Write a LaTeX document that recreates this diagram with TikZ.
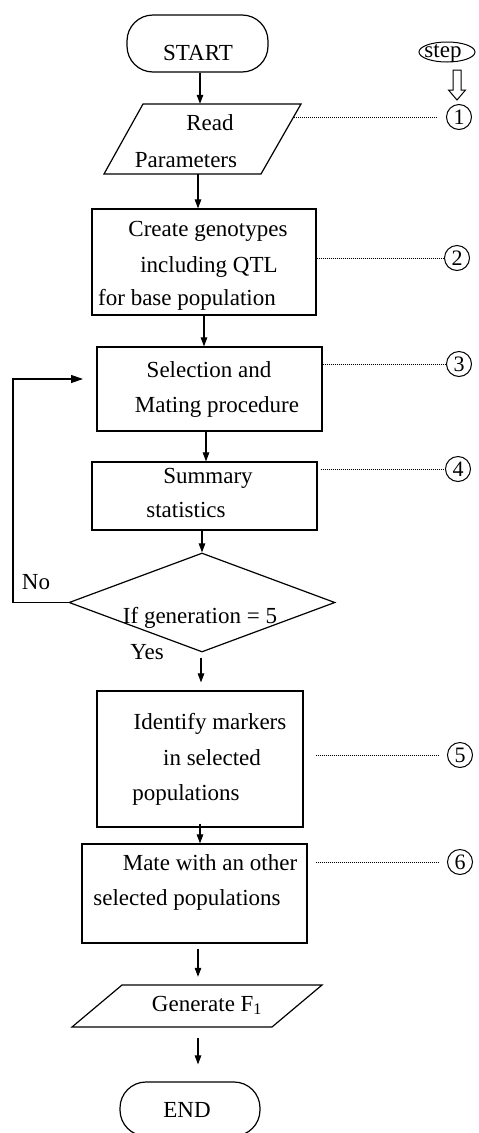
\documentclass[tikz,border=0pt]{standalone}
\usepackage{fontspec}
\setmainfont{Liberation Serif}
\usetikzlibrary{shapes.geometric,arrows.meta}
\begin{document}
\begin{tikzpicture}[x=1pt,y=-1pt,
  boxnode/.style={draw, line width=1.2pt, inner sep=0pt, rectangle},
  ghost/.style={inner sep=0pt, rectangle},
  txt/.style={font=\fontsize{23}{27}\selectfont, inner sep=0pt, anchor=base},
  arr/.style={line width=1.1pt, -{Triangle[length=9pt,width=6.5pt]}},
  bigarr/.style={line width=1.2pt, -{Triangle[length=12pt,width=8pt]}},
  dotline/.style={line width=0.9pt, dash pattern=on 0.9pt off 1.1pt},
  stepcirc/.style={draw, circle, line width=1pt, minimum size=25pt, inner sep=0pt, font=\fontsize{22}{22}\selectfont}]
\useasboundingbox (0,0) rectangle (479,1133);

% terminals
\node[boxnode, rounded corners=26pt, minimum width=141pt, minimum height=57pt] (start) at (197.5,43.5) {};
\node[txt] (tstart) at (198,60) {START};
\node[boxnode, rounded corners=26pt, minimum width=140pt, minimum height=54pt] (end) at (190,1109) {};
\node[txt] (tend) at (187,1117) {END};

% Read parameters (parallelogram)
\path (143,104) coordinate (rTL) (301,104) coordinate (rTR) (261,174) coordinate (rBR) (104,174) coordinate (rBL);
\draw[line width=1.2pt] (rTL) -- (rTR) -- (rBR) -- (rBL) -- cycle;
\node[ghost, minimum width=197pt, minimum height=70pt] (read) at (202.5,139) {};
\node[txt] (tread1) at (210,130) {Read};
\node[txt] (tread2) at (186,167) {Parameters};

% Create genotypes
\node[boxnode, minimum width=224pt, minimum height=106pt] (create) at (204,262) {};
\node[txt] (tcr1) at (208,236) {Create genotypes};
\node[txt] (tcr2) at (209,272) {including QTL};
\node[txt] (tcr3) at (187,305) {for base population};

% Selection
\node[boxnode, minimum width=225pt, minimum height=84pt] (sel) at (209.5,389) {};
\node[txt] (tsel1) at (209,377) {Selection and};
\node[txt] (tsel2) at (217,412) {Mating procedure};

% Summary
\node[boxnode, minimum width=225pt, minimum height=68pt] (sum) at (204.5,496) {};
\node[txt] (tsum1) at (208,483) {Summary};
\node[txt] (tsum2) at (186,517) {statistics};

% Decision
\node[draw, diamond, line width=1.2pt, inner sep=0pt, minimum width=266pt, minimum height=99pt] (dec) at (202,602.5) {};
\node[txt] (tdec) at (200,623) {If generation = 5};
\node[txt] (tno) at (36,589) {No};
\node[txt] (tyes) at (147,659) {Yes};

% Identify
\node[boxnode, minimum width=206pt, minimum height=136pt] (ident) at (200,759) {};
\node[txt] (tid1) at (210,729) {Identify markers};
\node[txt] (tid2) at (212,765) {in selected};
\node[txt] (tid3) at (186,800) {populations};

% Mate
\node[boxnode, minimum width=225pt, minimum height=99pt] (mate) at (194.5,893.5) {};
\node[txt] (tm1) at (210,870) {Mate with an other};
\node[txt] (tm2) at (187,905) {selected populations};

% Generate F1 (parallelogram)
\path (122,985) coordinate (gTL) (322,985) coordinate (gTR) (272,1027) coordinate (gBR) (72,1027) coordinate (gBL);
\draw[line width=1.2pt] (gTL) -- (gTR) -- (gBR) -- (gBL) -- cycle;
\node[ghost, minimum width=250pt, minimum height=42pt] (gen) at (197,1006) {};
\node[txt] (tgen) at (207,1011) {Generate F\textsubscript{1}};

% main flow arrows
\draw[arr] ([xshift=2.5pt]start.south) -- ([xshift=2.5pt]start.south |- read.north);
\draw[arr] ([xshift=-4.5pt]read.south) -- ([xshift=-4.5pt]read.south |- create.north);
\draw[arr] (create.south) -- (create.south |- sel.north);
\draw[arr] ([xshift=-3.5pt]sel.south) -- ([xshift=-3.5pt]sel.south |- sum.north);
\draw[arr] ([xshift=-2.5pt]sum.south) -- (dec.north);
\draw[arr, shorten <=5pt, shorten >=8pt] ([xshift=-1pt]dec.south) -- ([xshift=-1pt]dec.south |- ident.north);
\draw[arr] ([yshift=4pt]ident.south) -- (ident.south |- mate.north);
\draw[arr, shorten <=5pt, shorten >=8pt] ([xshift=3.5pt]mate.south) -- ([xshift=3.5pt]mate.south |- gen.north);
\draw[arr, shorten <=11pt, shorten >=17pt] ([xshift=1pt]gen.south) -- ([xshift=1pt]gen.south |- end.north);

% loop back (No)
\coordinate (loopc) at (13,379);
\coordinate (loopend) at (83,379);
\draw[bigarr] (dec.west) -| (loopc) -- (loopend);

% step indicator
\node[draw, ellipse, line width=1pt, inner sep=0pt, minimum width=56pt, minimum height=20pt] (stepel) at (447,52) {};
\node[font=\fontsize{23}{23}\selectfont, inner sep=0pt, anchor=base] (steptxt) at (443,57.5) {step};
\draw[line width=1pt] (453,70) -- (461,70) -- (461,90) -- (465.5,90) -- (457,100) -- (448.5,90) -- (453,90) -- cycle;

% step circles
\node[stepcirc] (c1) at (459,117) {1};
\node[stepcirc] (c2) at (457,258) {2};
\node[stepcirc] (c3) at (459,364) {3};
\node[stepcirc] (c4) at (458,469) {4};
\node[stepcirc] (c5) at (460,755) {5};
\node[stepcirc] (c6) at (460,862) {6};

% dotted leaders
\coordinate (r1) at (294,117);
\draw[dotline, shorten >=9pt] (r1) -- (c1.west);
\draw[dotline, shorten >=1pt] (create.east |- c2) -- (c2.west);
\draw[dotline, shorten >=1pt] (sel.east |- c3) -- (c3.west);
\draw[dotline, shorten <=3pt, shorten >=1pt] (sum.east |- c4) -- (c4.west);
\draw[dotline, shorten <=12pt, shorten >=8pt] (ident.east |- c5) -- (c5.west);
\draw[dotline, shorten <=8pt, shorten >=8pt] (mate.east |- c6) -- (c6.west);
\end{tikzpicture}
\end{document}
